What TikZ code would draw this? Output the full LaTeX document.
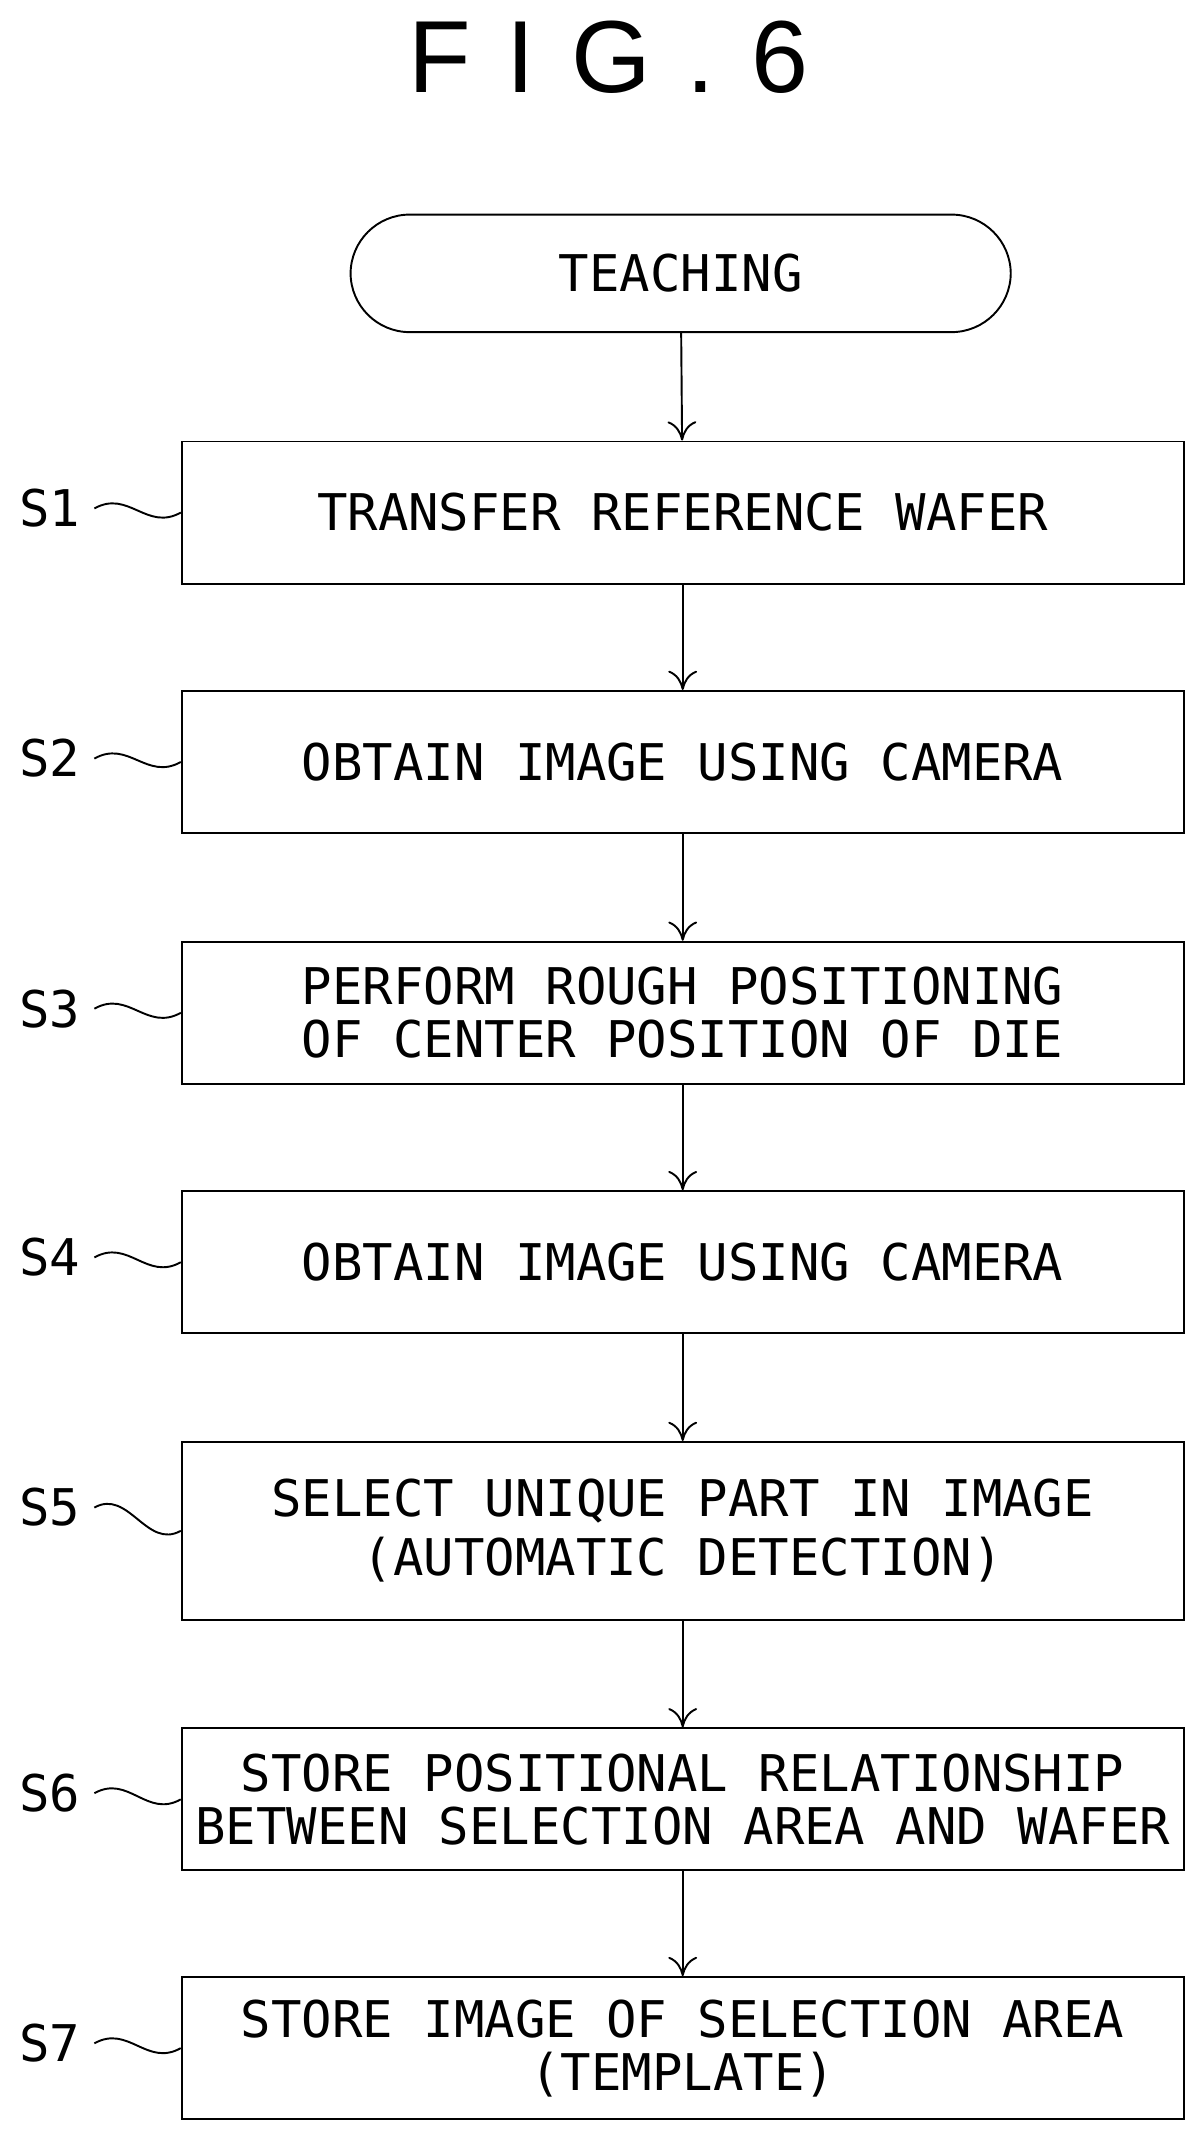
\documentclass[tikz,border=0pt]{standalone}
\usepackage{fontspec}
\setmonofont{DejaVu Sans Mono}
\setsansfont{Liberation Sans}
\usetikzlibrary{positioning,arrows.meta}
\begin{document}
\begin{tikzpicture}
    [
    x=0.03cm, y=-0.03cm,
    proc/.style={draw, line width=1.2pt, minimum width=21.99cm, minimum height=3.12cm,
      align=center, font=\ttfamily\fontsize{31.6}{33}\selectfont},
    term/.style={proc, rounded corners=1.3cm, minimum width=14.49cm, minimum height=2.58cm},
    lbl/.style={font=\ttfamily\fontsize{31.6}{33}\selectfont, anchor=west, inner sep=0pt},
    flow/.style={draw, line width=1.2pt, -{To[length=12pt,width=18pt,line width=1.2pt]}},
    wave/.style={draw, line width=1.2pt},
    ]
    \useasboundingbox (0,0) rectangle (880,1565);
    \node (title) at (445,42) {\sffamily\addfontfeature{LetterSpace=35}\fontsize{64}{64}\selectfont FIG.6};

    \node (t) at (498,200) [term] {TEACHING};
    \node (b1) at (499.5,375) [proc] {TRANSFER REFERENCE WAFER};
    \node (b2) at (499.5,557.5) [proc] {OBTAIN IMAGE USING CAMERA};
    \node (b3) at (499.5,741) [proc] {PERFORM ROUGH POSITIONING\\OF CENTER POSITION OF DIE};
    \node (b4) at (499.5,923.5) [proc] {OBTAIN IMAGE USING CAMERA};
    \node (b5) at (499.5,1120) [proc, minimum height=3.9cm] {SELECT UNIQUE PART IN IMAGE\\[4pt](AUTOMATIC DETECTION)};
    \node (b6) at (499.5,1316.5) [proc] {STORE POSITIONAL RELATIONSHIP\\BETWEEN SELECTION AREA AND WAFER};
    \node (b7) at (499.5,1498.5) [proc] {STORE IMAGE OF SELECTION AREA\\(TEMPLATE)};

    \draw [flow] (t) to (b1);
    \draw [flow] (b1) to (b2);
    \draw [flow] (b2) to (b3);
    \draw [flow] (b3) to (b4);
    \draw [flow] (b4) to (b5);
    \draw [flow] (b5) to (b6);
    \draw [flow] (b6) to (b7);

    % step labels with wavy leaders
    \node (l1) at (14,372) [lbl] {S1};
    \node (l2) at (14,555) [lbl] {S2};
    \node (l3) at (14,738) [lbl] {S3};
    \node (l4) at (14,920) [lbl] {S4};
    \node (l5) at (14,1103) [lbl] {S5};
    \node (l6) at (14,1312) [lbl] {S6};
    \node (l7) at (14,1495) [lbl] {S7};
    \draw [wave] ([xshift=0.3cm]l1.east) .. controls +(25,-14) and +(-25,14) .. (b1.west);
    \draw [wave] ([xshift=0.3cm]l2.east) .. controls +(25,-14) and +(-25,14) .. (b2.west);
    \draw [wave] ([xshift=0.3cm]l3.east) .. controls +(25,-14) and +(-25,14) .. (b3.west);
    \draw [wave] ([xshift=0.3cm]l4.east) .. controls +(25,-14) and +(-25,14) .. (b4.west);
    \draw [wave] ([xshift=0.3cm]l5.east) .. controls +(25,-14) and +(-25,14) .. (b5.west);
    \draw [wave] ([xshift=0.3cm]l6.east) .. controls +(25,-14) and +(-25,14) .. (b6.west);
    \draw [wave] ([xshift=0.3cm]l7.east) .. controls +(25,-14) and +(-25,14) .. (b7.west);
\end{tikzpicture}
\end{document}
